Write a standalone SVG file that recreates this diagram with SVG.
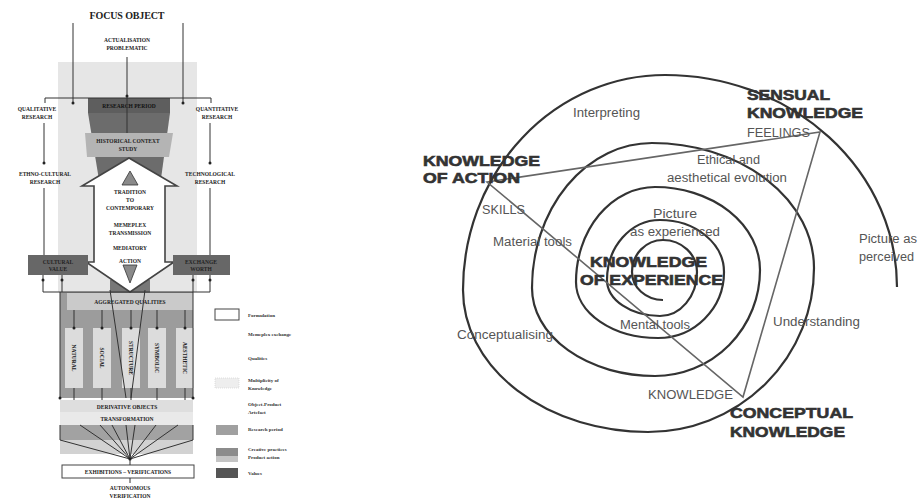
<svg xmlns="http://www.w3.org/2000/svg" width="919" height="498" viewBox="0 0 919 498">
<style>
.s{font-family:"Liberation Serif",serif;font-weight:bold;fill:#222;font-size:5.5px;text-anchor:middle}
.lg{font-family:"Liberation Serif",serif;font-weight:bold;fill:#333;font-size:5px}
.ln{stroke:#333;stroke-width:1;fill:none}
.dot{fill:#222}
.r{font-family:"Liberation Sans",Arial,sans-serif;fill:#555;font-size:12px}
.rb{font-family:"Liberation Sans",Arial,sans-serif;font-weight:bold;fill:#333;stroke:#333;stroke-width:0.6;font-size:15px}
.sp{stroke:#333;stroke-width:2.2;fill:none}
.tri{stroke:#666;stroke-width:1.6;fill:none}
</style>
<rect width="919" height="498" fill="#fff"/>
<!-- LEFT DIAGRAM -->
<g id="background-panel">
<rect x="58" y="62" width="139" height="230" fill="#e6e6e6"/>
</g>
<g id="focus-object">
<text class="s" x="127" y="19" style="font-size:10px" textLength="75">FOCUS OBJECT</text>
<text class="s" x="127" y="42">ACTUALISATION</text>
<text class="s" x="127" y="50">PROBLEMATIC</text>
</g>
<g id="qualitative"><text class="s" x="37" y="111">QUALITATIVE</text><text class="s" x="37" y="119">RESEARCH</text></g>
<g id="quantitative"><text class="s" x="217" y="111">QUANTITATIVE</text><text class="s" x="217" y="119">RESEARCH</text></g>
<g id="ethno"><text class="s" x="45" y="176">ETHNO-CULTURAL</text><text class="s" x="45" y="184">RESEARCH</text></g>
<g id="techno"><text class="s" x="210" y="176">TECHNOLOGICAL</text><text class="s" x="210" y="184">RESEARCH</text></g>
<g id="funnel">
<polygon points="88,113 170,113 160,186 100,186" fill="#6c6c6c"/>
<polygon points="85,133 173,133 169,157 87,157" fill="#b4b4b4"/>
<text class="s" x="128" y="143">HISTORICAL CONTEXT</text>
<text class="s" x="128" y="151">STUDY</text>
</g>
<g id="research-period">
<rect x="88" y="98" width="82" height="15" fill="#5e5e5e"/>
<text class="s" x="129" y="108" style="fill:#111">RESEARCH PERIOD</text>
</g>
<g id="aggregated-area">
<rect x="60" y="292" width="133" height="106" fill="#9c9c9c"/>
<rect x="110" y="280" width="40" height="13" fill="#777"/>
<rect x="67" y="293" width="126" height="17" fill="#cacaca"/>
<text class="s" x="130" y="304">AGGREGATED QUALITIES</text>
</g>
<g id="arrow">
<polygon points="129,158 177,186 165,186 165,262 174,262 130,292 86,262 94,262 94,186 82,186" fill="#fff" stroke="#444" stroke-width="1.6"/>
<polygon points="130,171 122,185 138,185" fill="#8a8a8a" stroke="#333" stroke-width="0.8"/>
<polygon points="123,265 137,265 130,283" fill="#8a8a8a" stroke="#333" stroke-width="0.8"/>
<text class="s" x="130" y="194">TRADITION</text>
<text class="s" x="130" y="202">TO</text>
<text class="s" x="130" y="210">CONTEMPORARY</text>
<text class="s" x="130" y="227">MEMEPLEX</text>
<text class="s" x="130" y="235">TRANSMISSION</text>
<text class="s" x="130" y="250">MEDIATORY</text>
<text class="s" x="130" y="263">ACTION</text>
</g>
<g id="cultural-value">
<rect x="28" y="255" width="60" height="20" fill="#676767"/>
<text class="s" x="58" y="264">CULTURAL</text><text class="s" x="58" y="271">VALUE</text>
</g>
<g id="exchange-worth">
<rect x="173" y="255" width="57" height="20" fill="#676767"/>
<text class="s" x="201" y="264">EXCHANGE</text><text class="s" x="201" y="271">WORTH</text>
</g>
<g id="qualities">
<rect x="65" y="328" width="18" height="60" fill="#dcdcdc"/>
<rect x="93" y="328" width="18" height="60" fill="#dcdcdc"/>
<rect x="122" y="328" width="18" height="60" fill="#dcdcdc"/>
<rect x="148" y="328" width="18" height="60" fill="#dcdcdc"/>
<rect x="176" y="328" width="18" height="60" fill="#dcdcdc"/>
<text class="s" transform="translate(72,358) rotate(90)">NATURAL</text>
<text class="s" transform="translate(100,358) rotate(90)">SOCIAL</text>
<text class="s" transform="translate(129,358) rotate(90)">STRUCTURE</text>
<text class="s" transform="translate(155,358) rotate(90)">SYMBOLIC</text>
<text class="s" transform="translate(183,358) rotate(90)">AESTHETIC</text>
</g>
<g id="derivative">
<rect x="60" y="400" width="133" height="12" fill="#dedede"/>
<rect x="60" y="412" width="133" height="13" fill="#e9e9e9"/>
<rect x="60" y="425" width="133" height="15" fill="#a2a2a2"/>
<rect x="60" y="440" width="133" height="14" fill="#d2d2d2"/>
<text class="s" x="127" y="409">DERIVATIVE OBJECTS</text>
<text class="s" x="127" y="421">TRANSFORMATION</text>
</g>
<g id="exhibitions">
<rect x="62" y="465" width="132" height="13" fill="#fff" stroke="#444" stroke-width="1"/>
<text class="s" x="128" y="474">EXHIBITIONS – VERIFICATIONS</text>
</g>
<g id="autonomous">
<text class="s" x="130" y="490">AUTONOMOUS</text>
<text class="s" x="130" y="498">VERIFICATION</text>
</g>
<g id="legend">
<rect x="215" y="309" width="24" height="11" fill="#fff" stroke="#444" stroke-width="1"/>
<text class="lg" x="248" y="317">Formulation</text>
<text class="lg" x="248" y="336">Memeplex exchange</text>
<text class="lg" x="248" y="360">Qualities</text>
<rect x="215" y="378" width="24" height="10" fill="#eee" stroke="#ccc" stroke-width="0.6" stroke-dasharray="1,1"/>
<text class="lg" x="248" y="382">Multiplicity of</text>
<text class="lg" x="248" y="390">Knowledge</text>
<text class="lg" x="248" y="406">Object-Product</text>
<text class="lg" x="248" y="414">Artefact</text>
<rect x="216" y="425" width="22" height="10" fill="#a0a0a0"/>
<text class="lg" x="248" y="431">Research period</text>
<rect x="216" y="448" width="22" height="8" fill="#8c8c8c"/>
<rect x="216" y="456" width="22" height="6" fill="#c4c4c4"/>
<text class="lg" x="248" y="451">Creative practices</text>
<text class="lg" x="248" y="459">Product action</text>
<rect x="216" y="468" width="22" height="10" fill="#555"/>
<text class="lg" x="248" y="475">Values</text>
</g>
<g id="left-connectors">
<line class="ln" x1="73" y1="23" x2="73" y2="103"/>
<line class="ln" x1="183" y1="23" x2="183" y2="103"/>
<line class="ln" x1="127" y1="57" x2="127" y2="133"/>
<polyline class="ln" points="45,103 45,98 211,98 211,103"/>
<circle class="dot" cx="73" cy="103" r="1.5"/><circle class="dot" cx="183" cy="103" r="1.5"/><circle class="dot" cx="127" cy="96" r="1.5"/>
<line class="ln" x1="44" y1="123" x2="44" y2="163"/><circle class="dot" cx="44" cy="163" r="1.5"/>
<line class="ln" x1="44" y1="188" x2="44" y2="255"/>
<line class="ln" x1="210" y1="123" x2="210" y2="163"/><circle class="dot" cx="210" cy="163" r="1.5"/>
<line class="ln" x1="210" y1="188" x2="210" y2="255"/>
<polyline class="ln" points="43,275 43,292 210,292 210,275"/>
<line class="ln" x1="62" y1="275" x2="62" y2="292"/>
<line class="ln" x1="193" y1="275" x2="193" y2="292"/>
<circle class="dot" cx="43" cy="280" r="1.5"/><circle class="dot" cx="62" cy="280" r="1.5"/>
<circle class="dot" cx="193" cy="280" r="1.5"/><circle class="dot" cx="210" cy="280" r="1.5"/>
<line class="ln" x1="60" y1="292" x2="60" y2="398"/><line class="ln" x1="193" y1="292" x2="193" y2="398"/>
<circle class="dot" cx="60" cy="398" r="1.5"/><circle class="dot" cx="193" cy="398" r="1.5"/>
<g class="ln">
<line x1="74" y1="310" x2="74" y2="328"/><line x1="102" y1="310" x2="102" y2="328"/><line x1="131" y1="310" x2="131" y2="328"/><line x1="157" y1="310" x2="157" y2="328"/><line x1="185" y1="310" x2="185" y2="328"/>
<line x1="74" y1="388" x2="74" y2="400"/><line x1="102" y1="388" x2="102" y2="400"/><line x1="131" y1="388" x2="131" y2="400"/><line x1="157" y1="388" x2="157" y2="400"/><line x1="185" y1="388" x2="185" y2="400"/>
</g>
<circle class="dot" cx="74" cy="328" r="1.5"/><circle class="dot" cx="102" cy="328" r="1.5"/><circle class="dot" cx="131" cy="328" r="1.5"/><circle class="dot" cx="157" cy="328" r="1.5"/><circle class="dot" cx="185" cy="328" r="1.5"/>
<line class="ln" x1="110" y1="290" x2="126" y2="398"/>
<line class="ln" x1="145" y1="290" x2="131" y2="398"/>
<g class="ln" stroke-width="1.2">
<polyline points="60,425 60,440 130,459 193,440 193,425"/>
<line x1="130" y1="459" x2="80" y2="425"/><line x1="130" y1="459" x2="100" y2="425"/><line x1="130" y1="459" x2="112" y2="425"/><line x1="130" y1="459" x2="126" y2="425"/><line x1="130" y1="459" x2="135" y2="425"/><line x1="130" y1="459" x2="156" y2="425"/><line x1="130" y1="459" x2="178" y2="425"/>
<line x1="130" y1="459" x2="130" y2="465"/><line x1="130" y1="478" x2="130" y2="483"/>
</g>
<circle class="dot" cx="130" cy="459" r="1.6"/>
</g>
<!-- RIGHT DIAGRAM -->
<g id="connectors">
<path id="spiral" class="sp" d="M897,287 A232,212 0 0 0 665,75 A202,215 0 0 0 463,290 A185,142 0 0 0 648,432 A166,164 0 0 0 814,268 A162,125 0 0 0 652,143 A120,145 0 0 0 532,288 A123,88 0 0 0 655,376 A105,106 0 0 0 760,270 A105,83 0 0 0 655,187 A79,95 0 0 0 576,282 A82,56 0 0 0 658,338 A66,66 0 0 0 724,272 A64,52 0 0 0 660,220 A53,60 0 0 0 607,280 A53,36 0 0 0 660,316 A37,44 0 0 0 697,272 A34,32 0 0 0 663,240 A31,32 0 0 0 632,272 A31,28 0 0 0 663,300"/>
<polygon class="tri" points="487,182 820,132 743,397"/>
</g>
<g id="knowledge-of-action">
<text class="rb" x="423" y="166" textLength="117" lengthAdjust="spacingAndGlyphs">KNOWLEDGE</text>
<text class="rb" x="423" y="183" textLength="97" lengthAdjust="spacingAndGlyphs">OF ACTION</text>
</g>
<g id="sensual-knowledge">
<text class="rb" x="747" y="100" textLength="83" lengthAdjust="spacingAndGlyphs">SENSUAL</text>
<text class="rb" x="747" y="118" textLength="116" lengthAdjust="spacingAndGlyphs">KNOWLEDGE</text>
<text class="r" x="747" y="137" textLength="63" lengthAdjust="spacingAndGlyphs">FEELINGS</text>
</g>
<g id="conceptual-knowledge">
<text class="r" x="648" y="399" textLength="85" lengthAdjust="spacingAndGlyphs">KNOWLEDGE</text>
<text class="rb" x="730" y="418" textLength="123" lengthAdjust="spacingAndGlyphs">CONCEPTUAL</text>
<text class="rb" x="730" y="437" textLength="115" lengthAdjust="spacingAndGlyphs">KNOWLEDGE</text>
</g>
<g id="knowledge-of-experience">
<text class="rb" x="590" y="267" textLength="117" lengthAdjust="spacingAndGlyphs">KNOWLEDGE</text>
<text class="rb" x="580" y="285" textLength="143" lengthAdjust="spacingAndGlyphs">OF EXPERIENCE</text>
</g>
<g id="labels">
<text class="r" x="573" y="117" textLength="67" lengthAdjust="spacingAndGlyphs">Interpreting</text>
<text class="r" x="697" y="164" textLength="63" lengthAdjust="spacingAndGlyphs">Ethical and</text>
<text class="r" x="667" y="182" textLength="120" lengthAdjust="spacingAndGlyphs">aesthetical evolution</text>
<text class="r" x="653" y="218" textLength="44" lengthAdjust="spacingAndGlyphs">Picture</text>
<text class="r" x="630" y="236" textLength="90" lengthAdjust="spacingAndGlyphs">as experienced</text>
<text class="r" x="482" y="214" textLength="43" lengthAdjust="spacingAndGlyphs">SKILLS</text>
<text class="r" x="493" y="246" textLength="79" lengthAdjust="spacingAndGlyphs">Material tools</text>
<text class="r" x="620" y="329" textLength="70" lengthAdjust="spacingAndGlyphs">Mental tools</text>
<text class="r" x="457" y="339" textLength="96" lengthAdjust="spacingAndGlyphs">Conceptualising</text>
<text class="r" x="773" y="326" textLength="87" lengthAdjust="spacingAndGlyphs">Understanding</text>
<text class="r" x="859" y="243" textLength="58" lengthAdjust="spacingAndGlyphs">Picture as</text>
<text class="r" x="859" y="261" textLength="55" lengthAdjust="spacingAndGlyphs">perceived</text>
</g>
</svg>
